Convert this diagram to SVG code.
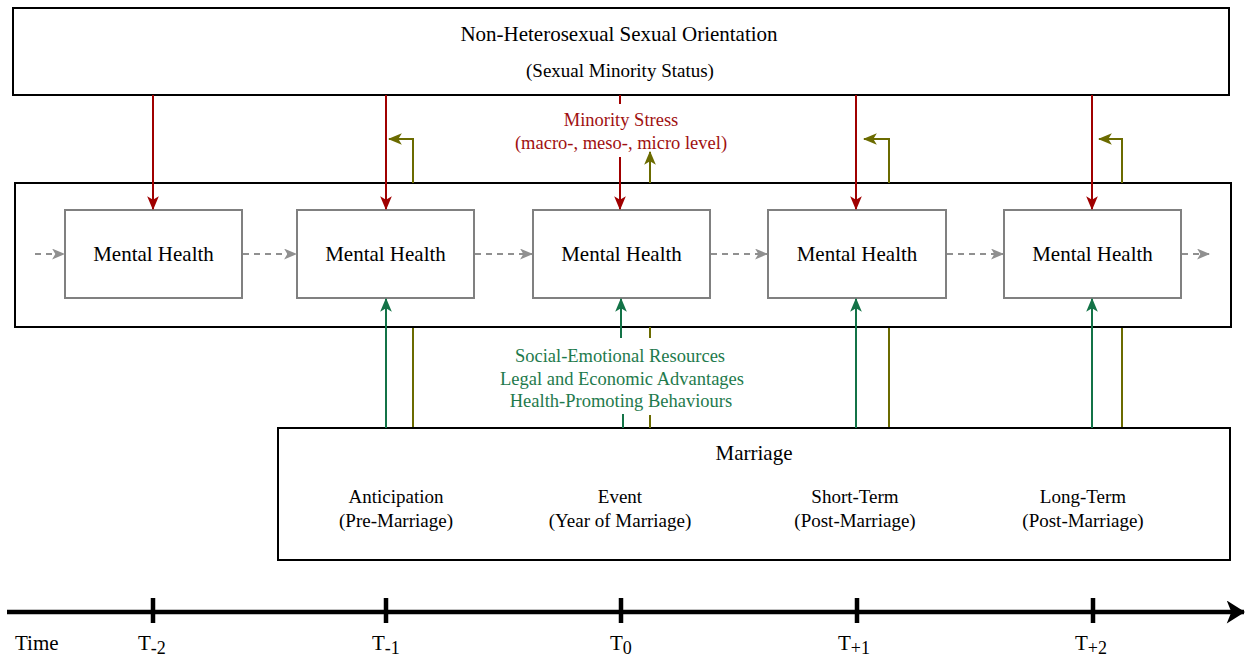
<svg xmlns="http://www.w3.org/2000/svg" width="1247" height="656" viewBox="0 0 1247 656">
<style>
text{font-family:"Liberation Serif","Times New Roman",serif;fill:#000}
.box{fill:#fff;stroke:#000;stroke-width:2}
.mh{fill:#fff;stroke:#808080;stroke-width:2}
.red{stroke:#A00000;stroke-width:2;fill:none}
.olive{stroke:#6B6B00;stroke-width:2;fill:none}
.green{stroke:#137347;stroke-width:2;fill:none}
.gray{stroke:#909090;stroke-width:2;fill:none;stroke-dasharray:6 5}
.t21{font-size:21px}
.t19{font-size:19px}
.tl{font-size:21px}
.rt{fill:#A01010;font-size:18.5px}
.gt{fill:#1E7A4C;font-size:18.5px}
</style>
<defs>
<marker id="aR" viewBox="0 0 12 10" refX="11" refY="5" markerWidth="14" markerHeight="12" markerUnits="userSpaceOnUse" orient="auto"><path d="M0,0 L12,5 L0,10 L3,5 Z" fill="#A00000"/></marker>
<marker id="aO" viewBox="0 0 12 10" refX="11" refY="5" markerWidth="14" markerHeight="12" markerUnits="userSpaceOnUse" orient="auto"><path d="M0,0 L12,5 L0,10 L3,5 Z" fill="#6B6B00"/></marker>
<marker id="aG" viewBox="0 0 12 10" refX="11" refY="5" markerWidth="14" markerHeight="12" markerUnits="userSpaceOnUse" orient="auto"><path d="M0,0 L12,5 L0,10 L3,5 Z" fill="#137347"/></marker>
<marker id="aY" viewBox="0 0 12 10" refX="11" refY="5" markerWidth="13" markerHeight="11" markerUnits="userSpaceOnUse" orient="auto"><path d="M0,0 L12,5 L0,10 L3,5 Z" fill="#909090"/></marker>
<marker id="aK" viewBox="0 0 16 20" refX="15" refY="10" markerWidth="19" markerHeight="23" markerUnits="userSpaceOnUse" orient="auto"><path d="M0,0 L16,10 L0,20 L4,10 Z" fill="#000"/></marker>
</defs>

<g id="connectors-behind">
<path class="olive" d="M413,428 V300"/>
<path class="olive" d="M889,428 V300"/>
<path class="olive" d="M1122,428 V300"/>
</g>

<g id="orientation">
<rect class="box" x="13" y="8" width="1216" height="87"/>
<text class="t21" x="619" y="41" text-anchor="middle">Non-Heterosexual Sexual Orientation</text>
<text class="t19" x="620" y="77" text-anchor="middle">(Sexual Minority Status)</text>
</g>

<g id="container">
<rect class="box" x="15" y="183" width="1216" height="144"/>
</g>

<g id="mh1"><rect class="mh" x="65" y="210" width="177" height="88"/><text class="t21" x="153.5" y="261" text-anchor="middle">Mental Health</text></g>
<g id="mh2"><rect class="mh" x="297" y="210" width="177" height="88"/><text class="t21" x="385.5" y="261" text-anchor="middle">Mental Health</text></g>
<g id="mh3"><rect class="mh" x="533" y="210" width="177" height="88"/><text class="t21" x="621.5" y="261" text-anchor="middle">Mental Health</text></g>
<g id="mh4"><rect class="mh" x="768" y="210" width="178" height="88"/><text class="t21" x="857" y="261" text-anchor="middle">Mental Health</text></g>
<g id="mh5"><rect class="mh" x="1004" y="210" width="177" height="88"/><text class="t21" x="1092.5" y="261" text-anchor="middle">Mental Health</text></g>

<g id="marriage">
<rect class="box" x="278" y="428" width="952" height="132"/>
<text class="t21" x="754" y="460" text-anchor="middle">Marriage</text>
<text class="t19" x="396" y="503" text-anchor="middle">Anticipation</text>
<text class="t19" x="396" y="527" text-anchor="middle">(Pre-Marriage)</text>
<text class="t19" x="620" y="503" text-anchor="middle">Event</text>
<text class="t19" x="620" y="527" text-anchor="middle">(Year of Marriage)</text>
<text class="t19" x="855" y="503" text-anchor="middle">Short-Term</text>
<text class="t19" x="855" y="527" text-anchor="middle">(Post-Marriage)</text>
<text class="t19" x="1083" y="503" text-anchor="middle">Long-Term</text>
<text class="t19" x="1083" y="527" text-anchor="middle">(Post-Marriage)</text>
</g>

<g id="connectors">
<path class="red" d="M153,95 V209" marker-end="url(#aR)"/>
<path class="red" d="M386,95 V209" marker-end="url(#aR)"/>
<path class="red" d="M620,95 V104"/>
<path class="red" d="M620,157 V209" marker-end="url(#aR)"/>
<path class="red" d="M856,95 V209" marker-end="url(#aR)"/>
<path class="red" d="M1092,95 V209" marker-end="url(#aR)"/>
<path class="olive" d="M413,183 V139 H389" marker-end="url(#aO)"/>
<path class="olive" d="M650,183 V152" marker-end="url(#aO)"/>
<path class="olive" d="M889,183 V139 H864" marker-end="url(#aO)"/>
<path class="olive" d="M1122,183 V139 H1099" marker-end="url(#aO)"/>
<path class="olive" d="M650,327 V338"/>
<path class="olive" d="M650,415 V428"/>
<path class="green" d="M386,428 V299" marker-end="url(#aG)"/>
<path class="green" d="M621,338 V299" marker-end="url(#aG)"/>
<path class="green" d="M623,414 V428"/>
<path class="green" d="M856,428 V299" marker-end="url(#aG)"/>
<path class="green" d="M1092,428 V299" marker-end="url(#aG)"/>
<path class="gray" d="M35,254 H64" marker-end="url(#aY)"/>
<path class="gray" d="M243,254 H296" marker-end="url(#aY)"/>
<path class="gray" d="M475,254 H532" marker-end="url(#aY)"/>
<path class="gray" d="M711,254 H767" marker-end="url(#aY)"/>
<path class="gray" d="M947,254 H1003" marker-end="url(#aY)"/>
<path class="gray" d="M1182,254 H1209" marker-end="url(#aY)"/>
</g>

<g id="labels">
<text class="rt" x="621" y="126" text-anchor="middle">Minority Stress</text>
<text class="rt" x="621" y="149" text-anchor="middle">(macro-, meso-, micro level)</text>
<text class="gt" x="620" y="362" text-anchor="middle">Social-Emotional Resources</text>
<text class="gt" x="622" y="385" text-anchor="middle">Legal and Economic Advantages</text>
<text class="gt" x="621" y="407" text-anchor="middle">Health-Promoting Behaviours</text>
</g>

<g id="timeline">
<path d="M7,612 H1244" stroke="#000" stroke-width="4.5" fill="none" marker-end="url(#aK)"/>
<path d="M153,598 V623 M386,598 V623 M621,598 V623 M857,598 V623 M1093,598 V623" stroke="#000" stroke-width="4.5" fill="none"/>
<text class="tl" x="15" y="650">Time</text>
<text class="tl" x="138" y="650">T<tspan font-size="18" dy="4">-2</tspan></text>
<text class="tl" x="372" y="650">T<tspan font-size="18" dy="4">-1</tspan></text>
<text class="tl" x="610" y="650">T<tspan font-size="18" dy="4">0</tspan></text>
<text class="tl" x="838" y="650">T<tspan font-size="18" dy="4">+1</tspan></text>
<text class="tl" x="1075" y="650">T<tspan font-size="18" dy="4">+2</tspan></text>
</g>
</svg>
